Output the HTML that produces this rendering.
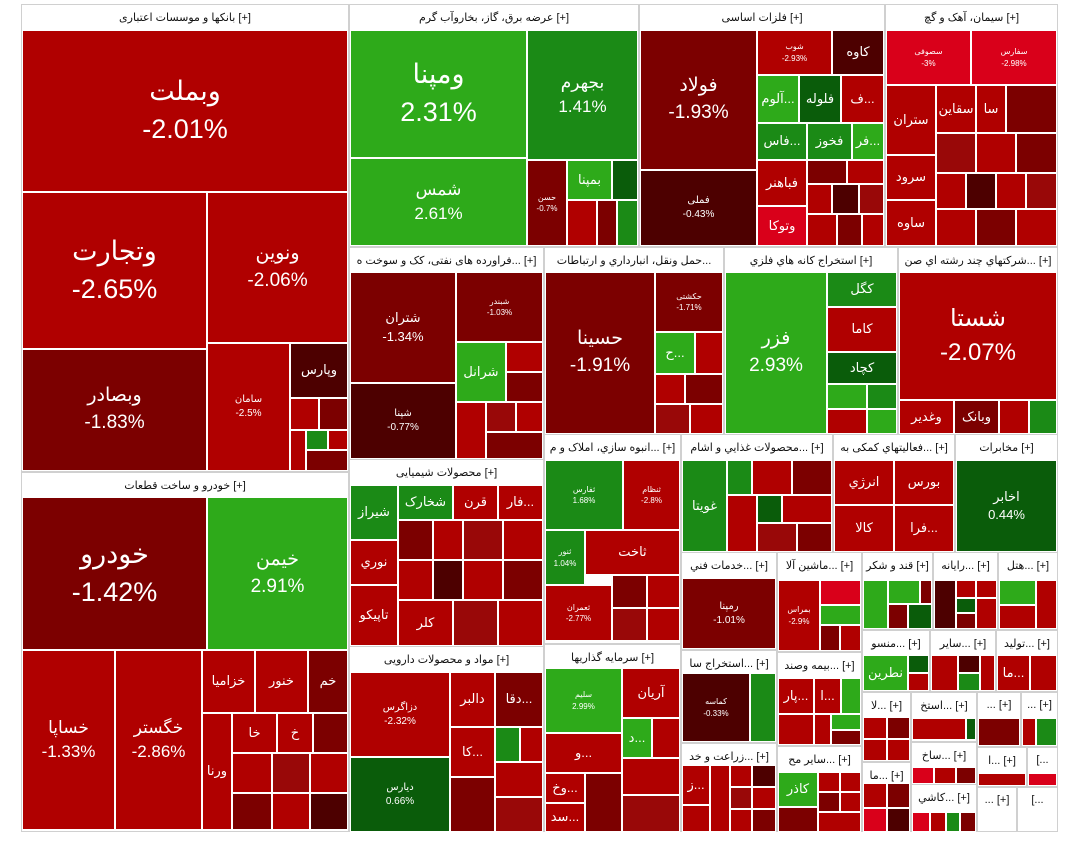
<!DOCTYPE html>
<html><head><meta charset="utf-8"><style>
body{margin:0;width:1080px;height:853px;background:#fff;position:relative;overflow:hidden}
.s{position:absolute;background:#fff;border:1px solid #d0d0d0;box-sizing:border-box;font:11px "Liberation Sans","DejaVu Sans",sans-serif;text-align:center;color:#111;padding-top:6px;overflow:hidden;white-space:nowrap}
.t{position:absolute;box-sizing:border-box;border:1px solid #fff;color:#fff;display:flex;flex-direction:column;align-items:center;justify-content:center;font-family:"Liberation Sans","DejaVu Sans",sans-serif;overflow:hidden;line-height:1.4;white-space:nowrap}
.a{background:#b00000}.b{background:#7c0000}.c{background:#4d0000}.g{background:#2eaa1a}.h{background:#1b8a16}.k{background:#0a5c0a}.e{background:#d9001a}.m{background:#990808}
.X{font-size:27px}.L{font-size:19px}.M{font-size:13px}.S{font-size:8px}
</style></head><body>
<!-- sectors -->
<div class="s" style="left:21px;top:4px;width:328px;height:468px">بانکها و موسسات اعتباری [+]</div>
<div class="s" style="left:21px;top:472px;width:328px;height:360px">خودرو و ساخت قطعات [+]</div>
<div class="s" style="left:349px;top:4px;width:290px;height:243px">عرضه برق، گاز، بخاروآب گرم [+]</div>
<div class="s" style="left:639px;top:4px;width:246px;height:243px">فلزات اساسی [+]</div>
<div class="s" style="left:885px;top:4px;width:173px;height:243px">سیمان، آهک و گچ [+]</div>
<div class="s" style="left:349px;top:247px;width:195px;height:212px">فراورده های نفتی، کک و سوخت ه... [+]</div>
<div class="s" style="left:349px;top:459px;width:195px;height:187px">محصولات شیمیایی [+]</div>
<div class="s" style="left:349px;top:646px;width:195px;height:186px">مواد و محصولات دارویی [+]</div>
<div class="s" style="left:544px;top:247px;width:180px;height:187px">حمل ونقل، انبارداري و ارتباطات...</div>
<div class="s" style="left:724px;top:247px;width:174px;height:187px">استخراج کانه هاي فلزي [+]</div>
<div class="s" style="left:898px;top:247px;width:160px;height:187px">شرکتهاي چند رشته اي صن... [+]</div>
<div class="s" style="left:544px;top:434px;width:137px;height:210px">انبوه سازي، املاک و م... [+]</div>
<div class="s" style="left:544px;top:644px;width:137px;height:188px">سرمایه گذاریها [+]</div>
<div class="s" style="left:681px;top:434px;width:152px;height:118px">محصولات غذايي و اشام... [+]</div>
<div class="s" style="left:833px;top:434px;width:122px;height:118px">فعالیتهاي کمکی به... [+]</div>
<div class="s" style="left:955px;top:434px;width:103px;height:118px">مخابرات [+]</div>
<div class="s" style="left:681px;top:552px;width:96px;height:98px">خدمات فني... [+]</div>
<div class="s" style="left:777px;top:552px;width:85px;height:100px">ماشين آلا... [+]</div>
<div class="s" style="left:862px;top:552px;width:71px;height:78px">قند و شکر [+]</div>
<div class="s" style="left:933px;top:552px;width:65px;height:78px">رايانه... [+]</div>
<div class="s" style="left:998px;top:552px;width:60px;height:78px">هتل... [+]</div>
<div class="s" style="left:681px;top:650px;width:96px;height:93px">استخراج سا... [+]</div>
<div class="s" style="left:777px;top:652px;width:85px;height:94px">بیمه وصند... [+]</div>
<div class="s" style="left:681px;top:743px;width:96px;height:89px">زراعت و خد... [+]</div>
<div class="s" style="left:777px;top:746px;width:85px;height:86px">سایر مح... [+]</div>
<div class="s" style="left:862px;top:630px;width:68px;height:62px">منسو... [+]</div>
<div class="s" style="left:930px;top:630px;width:66px;height:62px">سایر... [+]</div>
<div class="s" style="left:996px;top:630px;width:62px;height:62px">تولید... [+]</div>
<div class="s" style="left:862px;top:692px;width:49px;height:70px">لا... [+]</div>
<div class="s" style="left:911px;top:692px;width:66px;height:50px">استخ... [+]</div>
<div class="s" style="left:977px;top:692px;width:44px;height:55px">... [+]</div>
<div class="s" style="left:1021px;top:692px;width:37px;height:55px">... [+]</div>
<div class="s" style="left:862px;top:762px;width:49px;height:70px">ما... [+]</div>
<div class="s" style="left:911px;top:742px;width:66px;height:42px">ساخ... [+]</div>
<div class="s" style="left:977px;top:747px;width:50px;height:40px">ا... [+]</div>
<div class="s" style="left:1027px;top:747px;width:31px;height:40px">[...</div>
<div class="s" style="left:911px;top:784px;width:66px;height:48px">کاشي... [+]</div>
<div class="s" style="left:977px;top:787px;width:40px;height:45px">... [+]</div>
<div class="s" style="left:1017px;top:787px;width:41px;height:45px">[...</div>

<!-- banks -->
<div class="t a X" style="left:22px;top:30px;width:326px;height:162px"><span>وبملت</span><span>-2.01%</span></div>
<div class="t a X" style="left:22px;top:192px;width:185px;height:157px"><span>وتجارت</span><span>-2.65%</span></div>
<div class="t a L" style="left:207px;top:192px;width:141px;height:151px"><span>ونوین</span><span>-2.06%</span></div>
<div class="t b L" style="left:22px;top:349px;width:185px;height:122px"><span>وبصادر</span><span>-1.83%</span></div>
<div class="t a" style="left:207px;top:343px;width:83px;height:128px;font-size:10px"><span>سامان</span><span>-2.5%</span></div>
<div class="t c M" style="left:290px;top:343px;width:58px;height:55px">وپارس</div>
<div class="t a" style="left:290px;top:398px;width:29px;height:32px"></div>
<div class="t b" style="left:319px;top:398px;width:29px;height:32px"></div>
<div class="t a" style="left:290px;top:430px;width:16px;height:41px"></div>
<div class="t h" style="left:306px;top:430px;width:22px;height:20px"></div>
<div class="t a" style="left:328px;top:430px;width:20px;height:20px"></div>
<div class="t b" style="left:306px;top:450px;width:42px;height:21px"></div>
<!-- auto -->
<div class="t b X" style="left:22px;top:497px;width:185px;height:153px"><span>خودرو</span><span>-1.42%</span></div>
<div class="t g L" style="left:207px;top:497px;width:141px;height:153px"><span>خیمن</span><span>2.91%</span></div>
<div class="t a M" style="left:22px;top:650px;width:93px;height:180px;font-size:17px"><span>خساپا</span><span>-1.33%</span></div>
<div class="t a" style="left:115px;top:650px;width:87px;height:180px;font-size:17px"><span>خگستر</span><span>-2.86%</span></div>
<div class="t a M" style="left:202px;top:650px;width:53px;height:63px">خزامیا</div>
<div class="t a M" style="left:255px;top:650px;width:53px;height:63px">خنور</div>
<div class="t b M" style="left:308px;top:650px;width:40px;height:63px">خم</div>
<div class="t a M" style="left:202px;top:713px;width:30px;height:117px">ورنا</div>
<div class="t a M" style="left:232px;top:713px;width:45px;height:40px">خا</div>
<div class="t a M" style="left:277px;top:713px;width:36px;height:40px">خ</div>
<div class="t b" style="left:313px;top:713px;width:35px;height:40px"></div>
<div class="t a" style="left:232px;top:753px;width:40px;height:40px"></div>
<div class="t m" style="left:272px;top:753px;width:38px;height:40px"></div>
<div class="t a" style="left:310px;top:753px;width:38px;height:40px"></div>
<div class="t b" style="left:232px;top:793px;width:40px;height:37px"></div>
<div class="t a" style="left:272px;top:793px;width:38px;height:37px"></div>
<div class="t c" style="left:310px;top:793px;width:38px;height:37px"></div>
<!-- power -->
<div class="t g X" style="left:350px;top:30px;width:177px;height:128px"><span>ومپنا</span><span>2.31%</span></div>
<div class="t g" style="left:350px;top:158px;width:177px;height:88px;font-size:17px"><span>شمس</span><span>2.61%</span></div>
<div class="t h" style="left:527px;top:30px;width:111px;height:130px;font-size:17px"><span>بجهرم</span><span>1.41%</span></div>
<div class="t b S" style="left:527px;top:160px;width:40px;height:86px"><span>حسن</span><span>-0.7%</span></div>
<div class="t g M" style="left:567px;top:160px;width:45px;height:40px">بمپنا</div>
<div class="t k" style="left:612px;top:160px;width:26px;height:40px"></div>
<div class="t a" style="left:567px;top:200px;width:30px;height:46px"></div>
<div class="t b" style="left:597px;top:200px;width:20px;height:46px"></div>
<div class="t h" style="left:617px;top:200px;width:21px;height:46px"></div>
<!-- metals -->
<div class="t b L" style="left:640px;top:30px;width:117px;height:140px"><span>فولاد</span><span>-1.93%</span></div>
<div class="t c" style="left:640px;top:170px;width:117px;height:76px;font-size:10px"><span>فملی</span><span>-0.43%</span></div>
<div class="t a S" style="left:757px;top:30px;width:75px;height:45px"><span>شوب</span><span>-2.93%</span></div>
<div class="t c M" style="left:832px;top:30px;width:52px;height:45px">کاوه</div>
<div class="t g M" style="left:757px;top:75px;width:42px;height:48px">آلوم...</div>
<div class="t k M" style="left:799px;top:75px;width:42px;height:48px">فلوله</div>
<div class="t a M" style="left:841px;top:75px;width:43px;height:48px">ف...</div>
<div class="t h M" style="left:757px;top:123px;width:50px;height:37px">فاس...</div>
<div class="t h M" style="left:807px;top:123px;width:45px;height:37px">فخوز</div>
<div class="t g M" style="left:852px;top:123px;width:32px;height:37px">فر...</div>
<div class="t a M" style="left:757px;top:160px;width:50px;height:46px">فباهنر</div>
<div class="t e M" style="left:757px;top:206px;width:50px;height:40px">وتوکا</div>
<div class="t b" style="left:807px;top:160px;width:40px;height:24px"></div>
<div class="t a" style="left:847px;top:160px;width:37px;height:24px"></div>
<div class="t a" style="left:807px;top:184px;width:25px;height:30px"></div>
<div class="t c" style="left:832px;top:184px;width:27px;height:30px"></div>
<div class="t m" style="left:859px;top:184px;width:25px;height:30px"></div>
<div class="t a" style="left:807px;top:214px;width:30px;height:32px"></div>
<div class="t b" style="left:837px;top:214px;width:25px;height:32px"></div>
<div class="t a" style="left:862px;top:214px;width:22px;height:32px"></div>
<!-- cement -->
<div class="t e S" style="left:886px;top:30px;width:85px;height:55px"><span>سصوفی</span><span>-3%</span></div>
<div class="t e S" style="left:971px;top:30px;width:86px;height:55px"><span>سفارس</span><span>-2.98%</span></div>
<div class="t a M" style="left:886px;top:85px;width:50px;height:70px">ستران</div>
<div class="t a M" style="left:936px;top:85px;width:40px;height:48px">سقاین</div>
<div class="t a M" style="left:976px;top:85px;width:30px;height:48px">سا</div>
<div class="t b" style="left:1006px;top:85px;width:51px;height:48px"></div>
<div class="t a M" style="left:886px;top:155px;width:50px;height:45px">سرود</div>
<div class="t a M" style="left:886px;top:200px;width:50px;height:46px">ساوه</div>
<div class="t m" style="left:936px;top:133px;width:40px;height:40px"></div>
<div class="t a" style="left:976px;top:133px;width:40px;height:40px"></div>
<div class="t b" style="left:1016px;top:133px;width:41px;height:40px"></div>
<div class="t a" style="left:936px;top:173px;width:30px;height:36px"></div>
<div class="t c" style="left:966px;top:173px;width:30px;height:36px"></div>
<div class="t a" style="left:996px;top:173px;width:30px;height:36px"></div>
<div class="t m" style="left:1026px;top:173px;width:31px;height:36px"></div>
<div class="t a" style="left:936px;top:209px;width:40px;height:37px"></div>
<div class="t b" style="left:976px;top:209px;width:40px;height:37px"></div>
<div class="t a" style="left:1016px;top:209px;width:41px;height:37px"></div>
<!-- oil -->
<div class="t b M" style="left:350px;top:272px;width:106px;height:111px"><span>شتران</span><span>-1.34%</span></div>
<div class="t c" style="left:350px;top:383px;width:106px;height:76px;font-size:10px"><span>شپنا</span><span>-0.77%</span></div>
<div class="t b S" style="left:456px;top:272px;width:87px;height:70px"><span>شبندر</span><span>-1.03%</span></div>
<div class="t g M" style="left:456px;top:342px;width:50px;height:60px">شرانل</div>
<div class="t a" style="left:506px;top:342px;width:37px;height:30px"></div>
<div class="t b" style="left:506px;top:372px;width:37px;height:30px"></div>
<div class="t a" style="left:456px;top:402px;width:30px;height:57px"></div>
<div class="t m" style="left:486px;top:402px;width:30px;height:30px"></div>
<div class="t a" style="left:516px;top:402px;width:27px;height:30px"></div>
<div class="t b" style="left:486px;top:432px;width:57px;height:27px"></div>
<!-- chemicals -->
<div class="t h M" style="left:350px;top:485px;width:48px;height:55px">شیراز</div>
<div class="t h M" style="left:398px;top:485px;width:55px;height:35px">شخارک</div>
<div class="t a M" style="left:453px;top:485px;width:45px;height:35px">قرن</div>
<div class="t a M" style="left:498px;top:485px;width:45px;height:35px">فار...</div>
<div class="t a M" style="left:350px;top:540px;width:48px;height:45px">نوري</div>
<div class="t a M" style="left:350px;top:585px;width:48px;height:61px">تاپیکو</div>
<div class="t b" style="left:398px;top:520px;width:35px;height:40px"></div>
<div class="t a" style="left:433px;top:520px;width:30px;height:40px"></div>
<div class="t m" style="left:463px;top:520px;width:40px;height:40px"></div>
<div class="t a" style="left:503px;top:520px;width:40px;height:40px"></div>
<div class="t a" style="left:398px;top:560px;width:35px;height:40px"></div>
<div class="t c" style="left:433px;top:560px;width:30px;height:40px"></div>
<div class="t a" style="left:463px;top:560px;width:40px;height:40px"></div>
<div class="t b" style="left:503px;top:560px;width:40px;height:40px"></div>
<div class="t a M" style="left:398px;top:600px;width:55px;height:46px">کلر</div>
<div class="t m" style="left:453px;top:600px;width:45px;height:46px"></div>
<div class="t a" style="left:498px;top:600px;width:45px;height:46px"></div>
<!-- pharma -->
<div class="t a" style="left:350px;top:672px;width:100px;height:85px;font-size:10px"><span>دزاگرس</span><span>-2.32%</span></div>
<div class="t k" style="left:350px;top:757px;width:100px;height:75px;font-size:10px"><span>دیارس</span><span>0.66%</span></div>
<div class="t a M" style="left:450px;top:672px;width:45px;height:55px">دالبر</div>
<div class="t b M" style="left:495px;top:672px;width:48px;height:55px">دقا...</div>
<div class="t a M" style="left:450px;top:727px;width:45px;height:50px">کا...</div>
<div class="t h" style="left:495px;top:727px;width:25px;height:35px"></div>
<div class="t a" style="left:520px;top:727px;width:23px;height:35px"></div>
<div class="t b" style="left:450px;top:777px;width:45px;height:55px"></div>
<div class="t a" style="left:495px;top:762px;width:48px;height:35px"></div>
<div class="t m" style="left:495px;top:797px;width:48px;height:35px"></div>
<!-- transport -->
<div class="t b L" style="left:545px;top:272px;width:110px;height:162px"><span>حسینا</span><span>-1.91%</span></div>
<div class="t b S" style="left:655px;top:272px;width:68px;height:60px"><span>حکشتی</span><span>-1.71%</span></div>
<div class="t g M" style="left:655px;top:332px;width:40px;height:42px">ح...</div>
<div class="t a" style="left:695px;top:332px;width:28px;height:42px"></div>
<div class="t a" style="left:655px;top:374px;width:30px;height:30px"></div>
<div class="t b" style="left:685px;top:374px;width:38px;height:30px"></div>
<div class="t m" style="left:655px;top:404px;width:35px;height:30px"></div>
<div class="t a" style="left:690px;top:404px;width:33px;height:30px"></div>
<!-- mining -->
<div class="t g L" style="left:725px;top:272px;width:102px;height:162px"><span>فزر</span><span>2.93%</span></div>
<div class="t h M" style="left:827px;top:272px;width:70px;height:35px">کگل</div>
<div class="t a M" style="left:827px;top:307px;width:70px;height:45px">کاما</div>
<div class="t k M" style="left:827px;top:352px;width:70px;height:32px">کچاد</div>
<div class="t g" style="left:827px;top:384px;width:40px;height:25px"></div>
<div class="t h" style="left:867px;top:384px;width:30px;height:25px"></div>
<div class="t a" style="left:827px;top:409px;width:40px;height:25px"></div>
<div class="t g" style="left:867px;top:409px;width:30px;height:25px"></div>
<!-- multi -->
<div class="t a X" style="left:899px;top:272px;width:158px;height:128px;font-size:24px"><span>شستا</span><span>-2.07%</span></div>
<div class="t a M" style="left:899px;top:400px;width:55px;height:34px">وغدیر</div>
<div class="t b M" style="left:954px;top:400px;width:45px;height:34px">وبانک</div>
<div class="t a" style="left:999px;top:400px;width:30px;height:34px"></div>
<div class="t h" style="left:1029px;top:400px;width:28px;height:34px"></div>
<!-- construction -->
<div class="t h S" style="left:545px;top:460px;width:78px;height:70px"><span>ثفارس</span><span>1.68%</span></div>
<div class="t a S" style="left:623px;top:460px;width:57px;height:70px"><span>ثنظام</span><span>-2.8%</span></div>
<div class="t h S" style="left:545px;top:530px;width:40px;height:55px"><span>ثنور</span><span>1.04%</span></div>
<div class="t a M" style="left:585px;top:530px;width:95px;height:45px">ثاخت</div>
<div class="t a S" style="left:545px;top:585px;width:67px;height:56px"><span>ثعمران</span><span>-2.77%</span></div>
<div class="t b" style="left:612px;top:575px;width:35px;height:33px"></div>
<div class="t a" style="left:647px;top:575px;width:33px;height:33px"></div>
<div class="t m" style="left:612px;top:608px;width:35px;height:33px"></div>
<div class="t a" style="left:647px;top:608px;width:33px;height:33px"></div>
<!-- investment -->
<div class="t g S" style="left:545px;top:668px;width:77px;height:65px"><span>سلیم</span><span>2.99%</span></div>
<div class="t a M" style="left:622px;top:668px;width:58px;height:50px">آریان</div>
<div class="t a M" style="left:545px;top:733px;width:77px;height:40px">و...</div>
<div class="t g M" style="left:622px;top:718px;width:30px;height:40px">د...</div>
<div class="t a" style="left:652px;top:718px;width:28px;height:40px"></div>
<div class="t a M" style="left:545px;top:773px;width:40px;height:30px">وخ...</div>
<div class="t a M" style="left:545px;top:803px;width:40px;height:29px">سد...</div>
<div class="t b" style="left:585px;top:773px;width:37px;height:59px"></div>
<div class="t a" style="left:622px;top:758px;width:58px;height:37px"></div>
<div class="t m" style="left:622px;top:795px;width:58px;height:37px"></div>
<!-- food -->
<div class="t h M" style="left:682px;top:460px;width:45px;height:92px">غویتا</div>
<div class="t h" style="left:727px;top:460px;width:25px;height:35px"></div>
<div class="t a" style="left:752px;top:460px;width:40px;height:35px"></div>
<div class="t b" style="left:792px;top:460px;width:40px;height:35px"></div>
<div class="t a" style="left:727px;top:495px;width:30px;height:57px"></div>
<div class="t k" style="left:757px;top:495px;width:25px;height:28px"></div>
<div class="t a" style="left:782px;top:495px;width:50px;height:28px"></div>
<div class="t m" style="left:757px;top:523px;width:40px;height:29px"></div>
<div class="t b" style="left:797px;top:523px;width:35px;height:29px"></div>
<!-- aux -->
<div class="t a M" style="left:834px;top:460px;width:60px;height:45px">انرژي</div>
<div class="t a M" style="left:894px;top:460px;width:60px;height:45px">بورس</div>
<div class="t a M" style="left:834px;top:505px;width:60px;height:47px">کالا</div>
<div class="t a M" style="left:894px;top:505px;width:60px;height:47px">فرا...</div>
<!-- telecom -->
<div class="t k M" style="left:956px;top:460px;width:101px;height:92px"><span>اخابر</span><span>0.44%</span></div>
<!-- small sectors -->
<div class="t b" style="left:682px;top:578px;width:94px;height:71px;font-size:10px"><span>رمپنا</span><span>-1.01%</span></div>
<div class="t a S" style="left:778px;top:580px;width:42px;height:71px"><span>بمراس</span><span>-2.9%</span></div>
<div class="t e" style="left:820px;top:580px;width:41px;height:25px"></div>
<div class="t g" style="left:820px;top:605px;width:41px;height:20px"></div>
<div class="t b" style="left:820px;top:625px;width:20px;height:26px"></div>
<div class="t a" style="left:840px;top:625px;width:21px;height:26px"></div>
<div class="t g" style="left:863px;top:580px;width:25px;height:49px"></div>
<div class="t g" style="left:888px;top:580px;width:32px;height:24px"></div>
<div class="t b" style="left:920px;top:580px;width:12px;height:24px"></div>
<div class="t b" style="left:888px;top:604px;width:20px;height:25px"></div>
<div class="t k" style="left:908px;top:604px;width:24px;height:25px"></div>
<div class="t c" style="left:934px;top:580px;width:22px;height:49px"></div>
<div class="t a" style="left:956px;top:580px;width:20px;height:18px"></div>
<div class="t a" style="left:976px;top:580px;width:21px;height:18px"></div>
<div class="t k" style="left:956px;top:598px;width:20px;height:15px"></div>
<div class="t a" style="left:976px;top:598px;width:21px;height:31px"></div>
<div class="t b" style="left:956px;top:613px;width:20px;height:16px"></div>
<div class="t g" style="left:999px;top:580px;width:37px;height:25px"></div>
<div class="t a" style="left:999px;top:605px;width:37px;height:24px"></div>
<div class="t a" style="left:1036px;top:580px;width:21px;height:49px"></div>
<div class="t c S" style="left:682px;top:673px;width:68px;height:69px"><span>کماسه</span><span>-0.33%</span></div>
<div class="t h" style="left:750px;top:673px;width:26px;height:69px"></div>
<div class="t a M" style="left:778px;top:678px;width:36px;height:36px">پار...</div>
<div class="t a M" style="left:814px;top:678px;width:27px;height:36px">ا...</div>
<div class="t g" style="left:841px;top:678px;width:20px;height:36px"></div>
<div class="t a" style="left:778px;top:714px;width:36px;height:31px"></div>
<div class="t a" style="left:814px;top:714px;width:17px;height:31px"></div>
<div class="t g" style="left:831px;top:714px;width:30px;height:16px"></div>
<div class="t b" style="left:831px;top:730px;width:30px;height:15px"></div>
<div class="t a M" style="left:682px;top:765px;width:28px;height:40px">ز...</div>
<div class="t a" style="left:682px;top:805px;width:28px;height:27px"></div>
<div class="t a" style="left:710px;top:765px;width:20px;height:67px"></div>
<div class="t a" style="left:730px;top:765px;width:22px;height:22px"></div>
<div class="t m" style="left:730px;top:787px;width:22px;height:22px"></div>
<div class="t a" style="left:730px;top:809px;width:22px;height:23px"></div>
<div class="t c" style="left:752px;top:765px;width:24px;height:22px"></div>
<div class="t a" style="left:752px;top:787px;width:24px;height:22px"></div>
<div class="t b" style="left:752px;top:809px;width:24px;height:23px"></div>
<div class="t g M" style="left:778px;top:772px;width:40px;height:35px">کاذر</div>
<div class="t b" style="left:778px;top:807px;width:40px;height:25px"></div>
<div class="t a" style="left:818px;top:772px;width:22px;height:20px"></div>
<div class="t a" style="left:840px;top:772px;width:21px;height:20px"></div>
<div class="t b" style="left:818px;top:792px;width:22px;height:20px"></div>
<div class="t a" style="left:840px;top:792px;width:21px;height:20px"></div>
<div class="t a" style="left:818px;top:812px;width:43px;height:20px"></div>
<div class="t g M" style="left:863px;top:655px;width:45px;height:36px">نطرین</div>
<div class="t k" style="left:908px;top:655px;width:21px;height:18px"></div>
<div class="t a" style="left:908px;top:673px;width:21px;height:18px"></div>
<div class="t a" style="left:931px;top:655px;width:27px;height:36px"></div>
<div class="t c" style="left:958px;top:655px;width:22px;height:18px"></div>
<div class="t h" style="left:958px;top:673px;width:22px;height:18px"></div>
<div class="t a" style="left:980px;top:655px;width:15px;height:36px"></div>
<div class="t a M" style="left:997px;top:655px;width:33px;height:36px">ما...</div>
<div class="t a" style="left:1030px;top:655px;width:27px;height:36px"></div>
<div class="t a" style="left:863px;top:717px;width:24px;height:22px"></div>
<div class="t b" style="left:887px;top:717px;width:23px;height:22px"></div>
<div class="t a" style="left:863px;top:739px;width:24px;height:22px"></div>
<div class="t a" style="left:887px;top:739px;width:23px;height:22px"></div>
<div class="t a" style="left:912px;top:718px;width:54px;height:22px"></div>
<div class="t k" style="left:966px;top:718px;width:10px;height:22px"></div>
<div class="t b" style="left:978px;top:718px;width:42px;height:28px"></div>
<div class="t a" style="left:1022px;top:718px;width:14px;height:28px"></div>
<div class="t h" style="left:1036px;top:718px;width:21px;height:28px"></div>
<div class="t a" style="left:863px;top:783px;width:24px;height:25px"></div>
<div class="t b" style="left:887px;top:783px;width:23px;height:25px"></div>
<div class="t e" style="left:863px;top:808px;width:24px;height:24px"></div>
<div class="t c" style="left:887px;top:808px;width:23px;height:24px"></div>
<div class="t e" style="left:912px;top:767px;width:22px;height:17px"></div>
<div class="t a" style="left:934px;top:767px;width:22px;height:17px"></div>
<div class="t b" style="left:956px;top:767px;width:20px;height:17px"></div>
<div class="t a" style="left:978px;top:773px;width:48px;height:13px"></div>
<div class="t e" style="left:1028px;top:773px;width:29px;height:13px"></div>
<div class="t e" style="left:912px;top:812px;width:18px;height:20px"></div>
<div class="t a" style="left:930px;top:812px;width:16px;height:20px"></div>
<div class="t h" style="left:946px;top:812px;width:14px;height:20px"></div>
<div class="t b" style="left:960px;top:812px;width:16px;height:20px"></div>
</body></html>
